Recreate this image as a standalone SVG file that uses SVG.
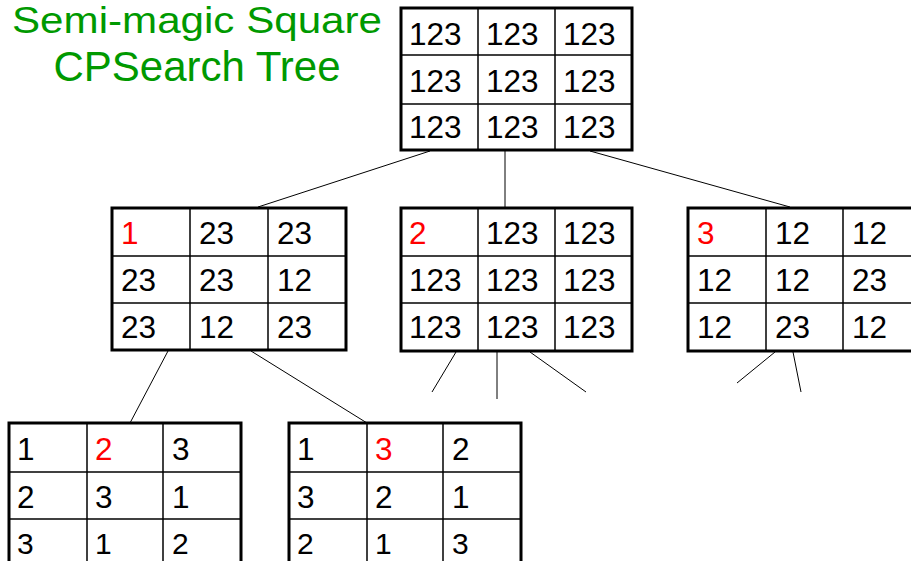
<svg xmlns="http://www.w3.org/2000/svg" width="911" height="561" viewBox="0 0 911 561">
<style>
.bg{fill:#fff}
.ob{fill:none;stroke:#000;stroke-width:3}
.il{stroke:#000;stroke-width:1.5}
.t{font-family:"Liberation Sans",Arial,sans-serif;font-size:31.5px;fill:#000}
.b{font-size:30px}
.r{fill:#ff0000}
.title{font-family:"Liberation Sans",Arial,sans-serif;fill:#009900;text-anchor:middle}
.c{stroke:#000;stroke-width:1;fill:none}
</style>
<rect width="911" height="561" fill="#fff"/>
<g id="title">
<text class="title" x="197" y="33" font-size="36.5" textLength="370" lengthAdjust="spacingAndGlyphs">Semi-magic Square</text>
<text class="title" x="197" y="81" font-size="42">CPSearch Tree</text>
</g>
<g id="connectors">
<line class="c" x1="430" y1="151" x2="258" y2="207"/>
<line class="c" x1="505" y1="151" x2="505" y2="208"/>
<line class="c" x1="590" y1="151" x2="790" y2="207"/>
<line class="c" x1="168" y1="351" x2="130" y2="423"/>
<line class="c" x1="251" y1="351" x2="367" y2="423"/>
<line class="c" x1="456" y1="352" x2="432" y2="392"/>
<line class="c" x1="497" y1="352" x2="497" y2="399"/>
<line class="c" x1="530" y1="352" x2="586" y2="392"/>
<line class="c" x1="775" y1="352" x2="737" y2="383"/>
<line class="c" x1="793" y1="352" x2="801" y2="392"/>
</g>
<g id="root">
<rect class="bg" x="401" y="8" width="231" height="142"/>
<line class="il" x1="478" y1="8" x2="478" y2="150"/>
<line class="il" x1="555" y1="8" x2="555" y2="150"/>
<line class="il" x1="401" y1="55" x2="632" y2="55"/>
<line class="il" x1="401" y1="104" x2="632" y2="104"/>
<rect class="ob" x="401" y="8" width="231" height="142"/>
<text class="t" x="409" y="45">123</text><text class="t" x="486" y="45">123</text><text class="t" x="563" y="45">123</text>
<text class="t" x="409" y="92">123</text><text class="t" x="486" y="92">123</text><text class="t" x="563" y="92">123</text>
<text class="t" x="409" y="138">123</text><text class="t" x="486" y="138">123</text><text class="t" x="563" y="138">123</text>
</g>
<g id="node1">
<rect class="bg" x="112" y="208" width="234" height="142"/>
<line class="il" x1="190" y1="208" x2="190" y2="350"/>
<line class="il" x1="268" y1="208" x2="268" y2="350"/>
<line class="il" x1="112" y1="256" x2="346" y2="256"/>
<line class="il" x1="112" y1="303" x2="346" y2="303"/>
<rect class="ob" x="112" y="208" width="234" height="142"/>
<text class="t r" x="121" y="244">1</text><text class="t" x="199" y="244">23</text><text class="t" x="277" y="244">23</text>
<text class="t" x="121" y="291">23</text><text class="t" x="199" y="291">23</text><text class="t" x="277" y="291">12</text>
<text class="t" x="121" y="338">23</text><text class="t" x="199" y="338">12</text><text class="t" x="277" y="338">23</text>
</g>
<g id="node2">
<rect class="bg" x="401" y="208" width="231" height="143"/>
<line class="il" x1="478" y1="208" x2="478" y2="351"/>
<line class="il" x1="555" y1="208" x2="555" y2="351"/>
<line class="il" x1="401" y1="256" x2="632" y2="256"/>
<line class="il" x1="401" y1="303" x2="632" y2="303"/>
<rect class="ob" x="401" y="208" width="231" height="143"/>
<text class="t r" x="409" y="244">2</text><text class="t" x="486" y="244">123</text><text class="t" x="563" y="244">123</text>
<text class="t" x="409" y="291">123</text><text class="t" x="486" y="291">123</text><text class="t" x="563" y="291">123</text>
<text class="t" x="409" y="338">123</text><text class="t" x="486" y="338">123</text><text class="t" x="563" y="338">123</text>
</g>
<g id="node3">
<rect class="bg" x="688" y="208" width="233" height="143"/>
<line class="il" x1="766" y1="208" x2="766" y2="351"/>
<line class="il" x1="843" y1="208" x2="843" y2="351"/>
<line class="il" x1="688" y1="256" x2="921" y2="256"/>
<line class="il" x1="688" y1="303" x2="921" y2="303"/>
<rect class="ob" x="688" y="208" width="233" height="143"/>
<text class="t r" x="697" y="244">3</text><text class="t" x="775" y="244">12</text><text class="t" x="852" y="244">12</text>
<text class="t" x="697" y="291">12</text><text class="t" x="775" y="291">12</text><text class="t" x="852" y="291">23</text>
<text class="t" x="697" y="338">12</text><text class="t" x="775" y="338">23</text><text class="t" x="852" y="338">12</text>
</g>
<g id="node4">
<rect class="bg" x="9" y="423" width="232" height="143"/>
<line class="il" x1="87" y1="423" x2="87" y2="566"/>
<line class="il" x1="163" y1="423" x2="163" y2="566"/>
<line class="il" x1="9" y1="472" x2="241" y2="472"/>
<line class="il" x1="9" y1="519" x2="241" y2="519"/>
<rect class="ob" x="9" y="423" width="232" height="143"/>
<text class="t" x="17" y="460">1</text><text class="t r" x="95" y="460">2</text><text class="t" x="172" y="460">3</text>
<text class="t" x="17" y="508">2</text><text class="t" x="95" y="508">3</text><text class="t" x="172" y="508">1</text>
<text class="t b" x="17" y="554">3</text><text class="t b" x="95" y="554">1</text><text class="t b" x="172" y="554">2</text>
</g>
<g id="node5">
<rect class="bg" x="289" y="423" width="232" height="143"/>
<line class="il" x1="367" y1="423" x2="367" y2="566"/>
<line class="il" x1="443" y1="423" x2="443" y2="566"/>
<line class="il" x1="289" y1="472" x2="521" y2="472"/>
<line class="il" x1="289" y1="519" x2="521" y2="519"/>
<rect class="ob" x="289" y="423" width="232" height="143"/>
<text class="t" x="297" y="460">1</text><text class="t r" x="375" y="460">3</text><text class="t" x="452" y="460">2</text>
<text class="t" x="297" y="508">3</text><text class="t" x="375" y="508">2</text><text class="t" x="452" y="508">1</text>
<text class="t b" x="297" y="554">2</text><text class="t b" x="375" y="554">1</text><text class="t b" x="452" y="554">3</text>
</g>
</svg>
